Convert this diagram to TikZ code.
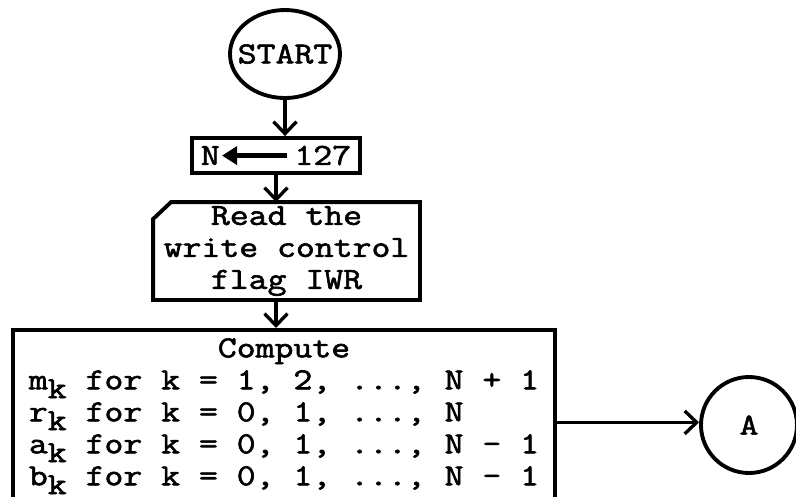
\documentclass[tikz,border=0pt]{standalone}
\usepackage{fontspec}
\setmonofont{Latin Modern Mono}[FakeStretch=1.2, FakeBold=2]
\usetikzlibrary{positioning,arrows.meta,calc,shapes.geometric}

\newcommand{\lowk}{\raisebox{-5pt}{k}}
\newcommand{\assignarrow}{\tikz[baseline=-5.3pt]\draw[line width=2.6pt,
  {Triangle[length=3mm, width=3.6mm]}-] (0,0) -- (1.3,0);}

\begin{document}
\begin{tikzpicture}[
  font=\ttfamily\fontsize{17.4pt}{18.2pt}\selectfont,
  box/.style={draw=black, line width=2.2pt, inner sep=0pt, align=center},
  card/.style={box, draw=none},
  cardline/.style={line width=2.2pt, line join=miter},
  term/.style={ellipse, draw=black, line width=2.2pt, inner sep=-0.3cm,
               minimum width=2.2cm, minimum height=1.76cm},
  conn/.style={circle, draw=black, line width=2.2pt, inner sep=0pt, minimum size=1.92cm},
  arr/.style={-{Straight Barb[length=2.4mm, width=4.6mm]}, line width=1.9pt}
]
\useasboundingbox (0,0) rectangle (15.92,-9.92);
% ----- main column (top -> bottom) -----
\node[term]   (start)  at (5.70,-1.08) {START};
\node[box, minimum width=3.36cm, minimum height=0.70cm] (assign) at (5.52,-3.11)
  {N\assignarrow\,127};
\node[card, minimum width=5.26cm, minimum height=1.88cm] (read) at (5.73,-5.02)
  {Read the\\write control\\flag IWR};
\draw[cardline] ([xshift=0.36cm]read.north west) -- (read.north east) -- (read.south east)
  -- (read.south west) -- ([yshift=-0.34cm]read.north west) -- cycle;
\node[box, anchor=north, minimum width=10.84cm, inner ysep=0.1cm] (compute) at (5.68,-6.56)
  {\begin{tabular}{@{}l@{}}
   \multicolumn{1}{@{}c@{}}{Compute}\\
   m\lowk{} for k = 1, 2, ..., N + 1\\
   r\lowk{} for k = 0, 1, ..., N\\
   a\lowk{} for k = 0, 1, ..., N - 1\\
   b\lowk{} for k = 0, 1, ..., N - 1\\[0.3cm]
   \end{tabular}};
% ----- off-page connector -----
\node[conn]   (A)      at (14.98,-8.50) {A};
% ----- connections -----
\draw[arr] (start) -- (start |- assign.north);
\draw[arr] (assign) -- (assign |- read.north);
\draw[arr] (assign |- read.south) -- (assign |- compute.north);
\draw[arr] (compute.east) -- (compute.east -| A.west);
\end{tikzpicture}
\end{document}
